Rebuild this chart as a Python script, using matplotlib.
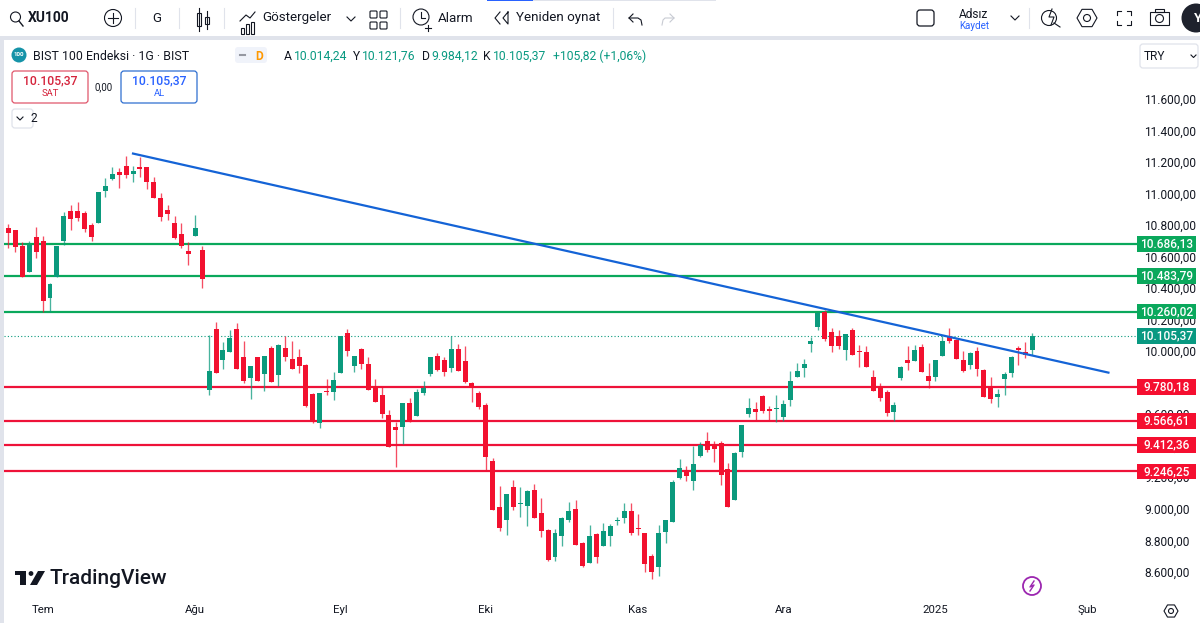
import matplotlib
matplotlib.use('Agg')
import matplotlib.pyplot as plt
from matplotlib.patches import Circle, FancyBboxPatch, Rectangle, RegularPolygon
from matplotlib.transforms import ScaledTranslation, blended_transform_factory

plt.rcParams['font.family'] = ['Roboto', 'DejaVu Sans']

# daily candles
opens = [10788, 10778, 10678, 10509, 10735, 10710, 10344, 10482, 10706, 10900,
         10898, 10883, 10812, 10820, 11027, 11099, 11146, 11186, 11135, 11175,
         11179, 11084, 10981, 10905, 10824, 10753, 10647, 10742, 10653, 9764,
         10152, 9954, 10006, 10152, 9970, 9837, 9970, 9865, 10032, 9861,
         10030, 9960, 9975, 9924, 9738, 9554, 9759, 9753, 9871, 10125,
         9918, 10025, 9928, 9791, 9732, 9602, 9526, 9526, 9681, 9601,
         9746, 9865, 9977, 9954, 9900, 10025, 9947, 9810, 9742, 9670,
         9313, 9024, 8941, 9150, 9038, 9030, 9131, 8981, 8878, 8702,
         8840, 8941, 9011, 8794, 8669, 8848, 8772, 8835, 8930, 8954,
         8998, 8889, 8854, 8711, 8639, 8863, 8929, 9206, 9244, 9188,
         9347, 9440, 9415, 9427, 9265, 9068, 9372, 9613, 9645, 9725,
         9639, 9642, 9594, 9702, 9848, 9900, 10053, 10165, 10256, 10129,
         10103, 10017, 10144, 10011, 10002, 9843, 9784, 9748, 9626, 9837,
         9954, 9949, 10034, 9850, 9848, 9981, 10103, 10081, 9954, 9922,
         10008, 9892, 9774, 9721, 9835, 9871, 10032, 10004, 10014]
closes = [10759, 10672, 10477, 10683, 10640, 10330, 10436, 10678, 10864, 10845,
          10856, 10784, 10735, 11016, 11059, 11133, 11124, 11129, 11149, 11165,
          11080, 10981, 10862, 10879, 10725, 10676, 10626, 10793, 10465, 9886,
          9871, 10019, 10093, 9897, 9818, 9918, 9822, 9977, 9812, 10049,
          9975, 9897, 9913, 9660, 9558, 9742, 9748, 9827, 10108, 10013,
          9979, 9928, 9764, 9689, 9611, 9404, 9510, 9681, 9558, 9753,
          9774, 9970, 9890, 9875, 10025, 9886, 9816, 9774, 9653, 9341,
          9003, 8886, 9102, 9019, 9045, 9125, 8954, 8871, 8688, 8854,
          8952, 8998, 8783, 8645, 8838, 8707, 8867, 8903, 8939, 8998,
          8857, 8880, 8658, 8610, 8854, 8939, 9180, 9269, 9216, 9294,
          9415, 9383, 9387, 9227, 9022, 9362, 9544, 9651, 9624, 9628,
          9632, 9648, 9677, 9822, 9881, 9928, 10076, 10254, 10087, 10044,
          10044, 10116, 9987, 10002, 9907, 9759, 9715, 9618, 9670, 9911,
          9937, 10019, 9880, 9822, 9954, 10072, 10074, 9962, 9881, 9996,
          9897, 9721, 9706, 9736, 9865, 9970, 10017, 9987, 10105]
highs = [10816, 10778, 10699, 10710, 10799, 10742, 10439, 10678, 10890, 10938,
         10957, 10900, 10820, 11016, 11108, 11179, 11171, 11247, 11186, 11238,
         11179, 11111, 11010, 10938, 10867, 10824, 10699, 10873, 10678, 10114,
         10192, 10070, 10144, 10186, 10076, 9918, 9975, 9981, 10044, 10055,
         10103, 10076, 10023, 9930, 9742, 9742, 9833, 9880, 10108, 10150,
         9981, 10030, 9970, 9833, 9780, 9639, 9558, 9681, 9713, 9770,
         9822, 9975, 9998, 9975, 10108, 10055, 10040, 9816, 9755, 9679,
         9332, 9157, 9104, 9193, 9146, 9130, 9169, 9079, 8882, 8882,
         8956, 9055, 9068, 8797, 8910, 8854, 8918, 8914, 8956, 9049,
         9049, 8977, 8854, 8724, 8908, 8939, 9193, 9326, 9282, 9406,
         9431, 9495, 9440, 9438, 9303, 9372, 9544, 9710, 9689, 9734,
         9664, 9734, 9700, 9881, 9937, 9960, 10097, 10256, 10271, 10157,
         10146, 10119, 10154, 10049, 10044, 9892, 9808, 9765, 9685, 9918,
         10044, 10051, 10055, 9937, 9956, 10108, 10154, 10087, 10008, 10002,
         10034, 9897, 9843, 9770, 9875, 9981, 10044, 10070, 10122]
lows = [10664, 10636, 10477, 10509, 10600, 10256, 10260, 10482, 10685, 10778,
        10832, 10767, 10706, 10820, 10989, 11095, 11044, 11105, 11080, 11116,
        11038, 10981, 10832, 10841, 10721, 10664, 10558, 10742, 10408, 9734,
        9871, 9897, 10006, 9897, 9808, 9706, 9822, 9759, 9812, 9791,
        9949, 9897, 9869, 9653, 9552, 9520, 9734, 9702, 9871, 9981,
        9875, 9894, 9764, 9689, 9583, 9404, 9273, 9421, 9558, 9596,
        9734, 9850, 9886, 9854, 9880, 9881, 9808, 9689, 9643, 9252,
        9003, 8867, 8844, 9005, 8956, 8899, 8954, 8833, 8677, 8681,
        8776, 8924, 8781, 8639, 8669, 8664, 8772, 8776, 8910, 8918,
        8844, 8844, 8607, 8565, 8584, 8793, 8924, 9197, 9188, 9130,
        9336, 9372, 9309, 9163, 9019, 9068, 9336, 9590, 9575, 9620,
        9575, 9563, 9569, 9660, 9843, 9848, 10002, 10144, 10076, 10002,
        10021, 9954, 9985, 9907, 9907, 9755, 9696, 9601, 9564, 9829,
        9890, 9949, 9880, 9776, 9822, 9979, 10059, 9960, 9880, 9897,
        9854, 9717, 9679, 9653, 9732, 9848, 9922, 9964, 9984]

green_levels = [10686.13, 10483.79, 10260.02]
red_levels = [9780.18, 9566.61, 9412.36, 9246.25]
last_price = 10105.37
trend_x = [18, 159]
trend_y = [11262, 9873]

price_ticks = [8600, 8800, 9000, 9200, 9400, 9600, 9800, 10000, 10200, 10400,
               10600, 10800, 11000, 11200, 11400, 11600]
date_ticks = [5, 27, 48, 69, 91, 112, 134, 156]
date_labels = ['Tem', 'Ağu', 'Eyl', 'Eki', 'Kas', 'Ara', '2025', 'Şub']

UP = '#0b9a7d'
DOWN = '#f2112f'
LEVEL_GREEN = '#0aa85c'
LEVEL_RED = '#ee1238'
TEXT = '#131722'
PALE = '#e0e3eb'


def tr_number(v):
    return f'{v:,.2f}'.replace(',', 'X').replace('.', ',').replace('X', '.')


fig = plt.figure(figsize=(12, 6.23), dpi=100)

# main pane, x 4..1137 and y 40..595 in picture pixels
ax = fig.add_axes([4 / 1200, 1 - 595 / 623, 1133 / 1200, 555 / 623])
ax.set_xlim(-0.65, 163.13)
ax.set_ylim(8463, 11982)
for s in ax.spines.values():
    s.set_visible(False)
ax.yaxis.tick_right()
ax.set_yticks(price_ticks)
ax.set_yticklabels([tr_number(v) for v in price_ticks], fontsize=8.6, color=TEXT)
ax.set_xticks(date_ticks)
ax.set_xticklabels(date_labels, fontsize=8.2, color=TEXT)
ax.tick_params(axis='y', length=0, pad=5.3)
ax.tick_params(axis='x', length=0, pad=7.5)
lift = ScaledTranslation(0, 1.5 / 100, fig.dpi_scale_trans)
for lbl in ax.get_yticklabels():
    lbl.set_transform(lbl.get_transform() + lift)

for level in green_levels:
    ax.axhline(level, color=LEVEL_GREEN, lw=1.6, zorder=2)
for level in red_levels:
    ax.axhline(level, color=LEVEL_RED, lw=1.6, zorder=2)
ax.axhline(last_price, color=UP, lw=0.8, ls=(0, (1, 2)), zorder=1)

for i in range(len(opens)):
    col = UP if closes[i] >= opens[i] else DOWN
    ax.vlines(i, lows[i], highs[i], color=col, lw=0.95, alpha=0.75, zorder=3)
    bottom = min(opens[i], closes[i])
    height = max(abs(closes[i] - opens[i]), 8)
    ax.bar(i, height, bottom=bottom, width=0.72, color=col, zorder=4)

ax.plot(trend_x, trend_y, color='#1463d6', lw=1.6, zorder=5)

# price badges on the axis
badge_tr = blended_transform_factory(ax.transAxes, ax.transData)
badges = [(v, LEVEL_GREEN) for v in green_levels] + [(last_price, '#089981')] + [(v, '#f50f30') for v in red_levels]
for value, col in badges:
    ax.add_patch(Rectangle((1.0, value - 50), 59 / 1133, 100, transform=badge_tr,
                           facecolor=col, edgecolor='none', clip_on=False, zorder=6))
    ax.text(1.0 + 29.5 / 1133, value, tr_number(value), transform=badge_tr, color='white',
            fontsize=8.6, fontweight='medium', ha='center', va='center', clip_on=False, zorder=7)

# overlay in picture pixels for the TradingView chrome
ui = fig.add_axes([0, 0, 1, 1], facecolor='none')
ui.set_xlim(0, 1200)
ui.set_ylim(623, 0)
ui.axis('off')

ui.add_patch(Rectangle((0, 36), 1200, 4, facecolor=PALE, edgecolor='none'))
ui.add_patch(Rectangle((0, 36), 4, 587, facecolor=PALE, edgecolor='none'))
ui.add_patch(Rectangle((487, 0), 46, 1.2, facecolor='#2962ff', edgecolor='none'))
ui.add_patch(Rectangle((533, 0), 183, 1, facecolor=PALE, edgecolor='none'))
for sep_x in [135, 179, 224, 400, 613, 1029]:
    ui.plot([sep_x, sep_x], [8, 28], color=PALE, lw=0.8)


def label(x, y, s, size=9.5, color=TEXT, ha='left', weight='normal'):
    ui.text(x, y, s, fontsize=size, color=color, ha=ha, va='center', fontweight=weight)


def outline(patch):
    patch.set_facecolor('none')
    patch.set_edgecolor(TEXT)
    patch.set_linewidth(0.8)
    ui.add_patch(patch)


def box(x, y, w, h, edge, face='white', lw=0.9):
    ui.add_patch(FancyBboxPatch((x + 3, y + 3), w - 6, h - 6, boxstyle='round,pad=3',
                                facecolor=face, edgecolor=edge, linewidth=lw))


# toolbar
outline(Circle((15.5, 17), 5))
ui.plot([19, 23], [21, 26], color=TEXT, lw=1)
label(28, 18, 'XU100', size=10, weight='bold')
outline(Circle((113, 18), 8.5))
ui.plot([108, 118], [18, 18], color=TEXT, lw=0.8)
ui.plot([113, 113], [13, 23], color=TEXT, lw=0.8)
label(157, 18, 'G', size=9.5, ha='center')
outline(Rectangle((197, 13), 3.5, 13))
ui.plot([198.7, 198.7], [8, 31], color=TEXT, lw=0.8)
outline(Rectangle((205, 17), 3.5, 7))
ui.plot([206.7, 206.7], [11, 29], color=TEXT, lw=0.8)
ui.plot([240, 246, 250, 255], [21, 15, 18, 12], color=TEXT, lw=0.8)
for bar_x, bar_top in [(241, 28), (246, 24), (251, 22)]:
    outline(Rectangle((bar_x, bar_top), 3, 34 - bar_top))
label(262, 18, 'Göstergeler', size=9.6)
ui.plot([347, 351, 355], [17, 21, 17], color=TEXT, lw=0.8)
for gx, gy in [(370, 11), (380, 11), (370, 22), (380, 22)]:
    ui.add_patch(FancyBboxPatch((gx + 1, gy + 1), 5, 5, boxstyle='round,pad=1', facecolor='none',
                                edgecolor=TEXT, linewidth=0.8))
outline(Circle((421, 17), 8))
ui.plot([421, 421, 425], [12, 18, 18], color=TEXT, lw=0.8)
ui.plot([425, 431], [28, 28], color=TEXT, lw=0.8)
ui.plot([428, 428], [25, 31], color=TEXT, lw=0.8)
label(438, 18, 'Alarm', size=9.6)
ui.plot([500, 495, 500], [12, 18, 24], color=TEXT, lw=0.8)
ui.plot([508, 503, 508, 508], [12, 18, 24, 12], color=TEXT, lw=0.8)
label(516, 18, 'Yeniden oynat', size=9.6)
ui.plot([633, 629, 633], [14, 18, 22], color=TEXT, lw=0.8)
ui.plot([629, 638, 641, 642], [18, 18, 20, 25], color=TEXT, lw=0.8)
ui.plot([670, 674, 670], [14, 18, 22], color='#c8cbd3', lw=0.8)
ui.plot([674, 665, 663, 662], [18, 18, 20, 25], color='#c8cbd3', lw=0.8)
box(917, 10, 17, 16, TEXT)
label(974, 14, 'Adsız', size=8.6, ha='center')
label(974, 26, 'Kaydet', size=7, color='#2962ff', ha='center')
ui.plot([1011, 1015, 1019], [16, 20, 16], color=TEXT, lw=0.8)
outline(Circle((1049, 18), 7.5))
ui.plot([1054, 1060], [23, 27], color=TEXT, lw=0.8)
ui.plot([1052, 1049, 1054, 1051], [9, 17, 17, 25], color=TEXT, lw=0.8)
outline(RegularPolygon((1087, 18), 6, radius=10, orientation=0.5236))
outline(Circle((1087, 18), 3.5))
for cx, cy, dx, dy in [(1117, 11, 1, 1), (1131, 11, -1, 1), (1117, 25, 1, -1), (1131, 25, -1, -1)]:
    ui.plot([cx + 4 * dx, cx, cx], [cy, cy, cy + 4 * dy], color=TEXT, lw=0.8)
outline(Rectangle((1150, 12), 19, 13))
outline(Rectangle((1155, 9), 9, 3))
outline(Circle((1159.5, 18.5), 4))
ui.add_patch(Circle((1196, 18), 14.5, facecolor='#1e222d', edgecolor='none'))
label(1194, 18, 'Y', size=9.5, color='white', weight='bold')

# legend row
ui.add_patch(Circle((19, 55), 7.5, facecolor='#1593a8', edgecolor='none'))
label(19, 55, '100', size=4.5, color='white', ha='center', weight='bold')
label(33, 56, 'BIST 100 Endeksi · 1G · BIST', size=8.9)
ui.add_patch(FancyBboxPatch((238, 50), 26, 10, boxstyle='round,pad=3', facecolor='#f0f3fa', edgecolor='none'))
ui.plot([240, 245], [55, 55], color='#9598a1', lw=1.5)
label(259, 56, 'D', size=8.6, color='#ff9800', ha='center', weight='bold')
for x, s in [(284, 'A'), (353, 'Y'), (422, 'D'), (483.5, 'K')]:
    label(x, 56, s, size=8.7)
for x, s in [(293.5, '10.014,24'), (362, '10.121,76'), (431, '9.984,12'), (493, '10.105,37'),
             (553, '+105,82 (+1,06%)')]:
    label(x, 56, s, size=8.7, color='#089981')

box(12, 71, 76, 32, '#e0566b')
label(50, 81, '10.105,37', size=8.8, color='#d5243c', ha='center', weight='medium')
label(50, 94, 'SAT', size=6.8, color='#d5243c', ha='center')
label(104, 87, '0,00', size=7, ha='center')
box(121, 71, 76, 32, '#2f6fd0')
label(159, 81, '10.105,37', size=8.8, color='#2962ff', ha='center', weight='medium')
label(159, 94, 'AL', size=6.8, color='#2962ff', ha='center')
box(12, 109, 21, 19, PALE)
ui.plot([17, 20, 23], [117, 120, 117], color=TEXT, lw=0.8)
label(37, 118, '2', size=8.6, ha='right')

box(1140, 44, 58, 24, PALE)
label(1144, 56, 'TRY', size=8.6)
ui.plot([1191, 1193.5, 1196], [55, 57.5, 55], color=TEXT, lw=0.8)

# watermark and corner icons
ui.add_patch(Rectangle((15, 571), 11, 4, facecolor=TEXT, edgecolor='none'))
ui.add_patch(Rectangle((20, 571), 6, 14, facecolor=TEXT, edgecolor='none'))
ui.add_patch(Circle((31, 573.5), 2.4, facecolor=TEXT, edgecolor='none'))
ui.fill([38, 45, 37, 30], [571, 571, 585, 585], color=TEXT, lw=0)
label(50, 578, 'TradingView', size=15, weight='medium')
ui.add_patch(Circle((1032, 586), 9, facecolor='white', edgecolor='#9c27b0', linewidth=1.3))
ui.plot([1034, 1030, 1034, 1030], [581, 587, 585, 591], color='#9c27b0', lw=1)
outline(RegularPolygon((1171, 611), 6, radius=7, orientation=0.5236))
outline(Circle((1171, 611), 2.5))

fig.savefig('out.png', dpi=100)
